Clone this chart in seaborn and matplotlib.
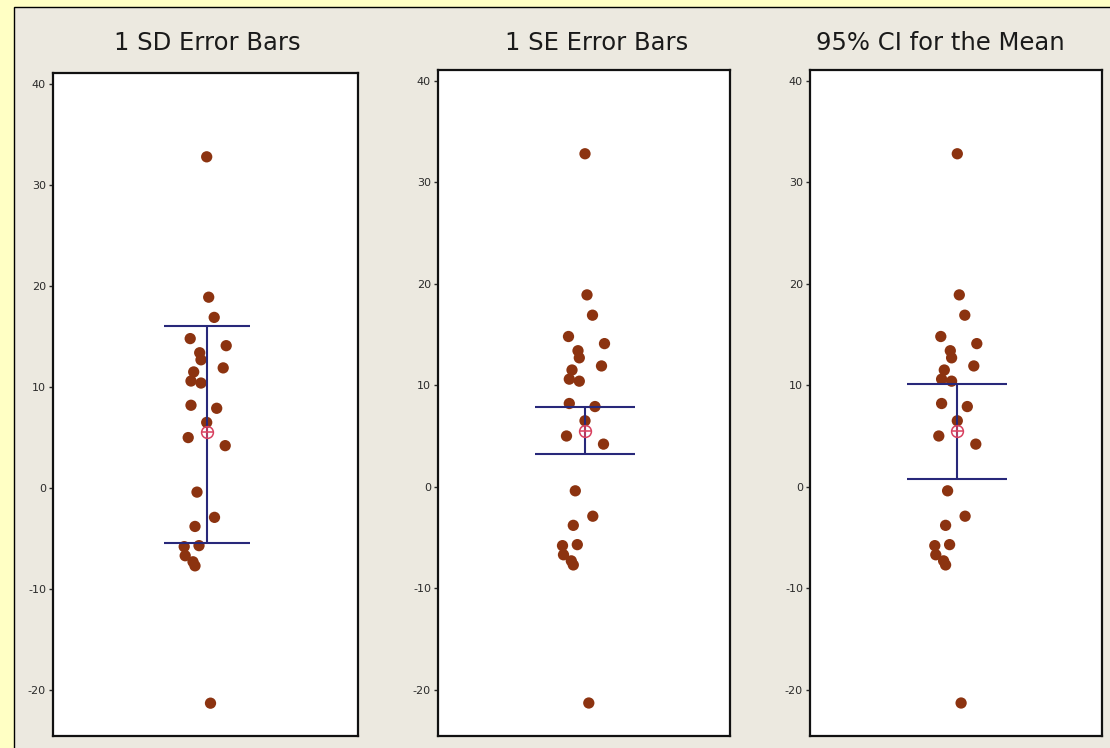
import numpy as np
import matplotlib
matplotlib.use("Agg")
import matplotlib.pyplot as plt
import seaborn as sns
from matplotlib.patches import Rectangle
from matplotlib.ticker import FixedLocator, FuncFormatter

# ---- data ----
values = [32.8, 18.9, 16.9, 14.8, 14.1, 13.4, 12.7, 11.9, 11.5, 10.6, 10.4,
          8.2, 7.9, 6.5, 5.0, 4.2, -0.4, -2.9, -3.8, -5.8, -5.7, -6.7,
          -7.3, -7.7, -21.3]
# horizontal jitter of each point (in pixels from the panel centre line)
jitter = [0, 2, 7.5, -16.5, 19.5, -7, -5.7, 16.5, -13, -15.7, -5.7,
          -15.7, 10, 0, -18.5, 18.5, -9.7, 7.8, -11.7, -22.5, -7.7, -21.5,
          -13.7, -11.7, 3.8]
titles = ["1 SD Error Bars", "1 SE Error Bars", "95% CI for the Mean"]
bar_low = [-5.4, 3.25, 0.75]
bar_high = [16.0, 7.9, 10.15]
y_ticks = [-20, -10, 0, 10, 20, 30, 40]

plt.rcParams['axes.unicode_minus'] = False
sns.set_style("white")
plt.rcParams['font.family'] = ['DejaVu Sans']

W, H = 1110, 748
fig = plt.figure(figsize=(W / 100, H / 100), dpi=100)
fig.patch.set_facecolor('#FFFFC4')
fig.patches.append(Rectangle((13.5 / W, -0.02), 1.1, (H - 6.5) / H + 0.02,
                             transform=fig.transFigure, facecolor='#ECE9E0',
                             edgecolor='black', linewidth=1.0, zorder=-1))

# panel layout in pixels: left, right, top, bottom, centre line x
panels = [(53, 358, 73, 736, 206.7),
          (438, 730, 69.5, 736, 585.0),
          (810, 1102, 69.5, 736, 957.3)]
title_x = [207, 597, 940]
caps = [31, 36, 36]

mean_val = float(np.mean(values))

for i, (l, r, t, b, c) in enumerate(panels):
    ax = fig.add_axes([l / W, (H - b) / H, (r - l) / W, (b - t) / H])
    ax.set_facecolor('white')
    sns.scatterplot(x=jitter, y=values, ax=ax, color='#8C3310', s=66,
                    edgecolor='none', linewidth=0, zorder=2, legend=False)
    lo, hi = bar_low[i], bar_high[i]
    ctr = (lo + hi) / 2
    ax.errorbar([0], [ctr], yerr=[[ctr - lo], [hi - ctr]], fmt='none',
                ecolor='#28287A', elinewidth=1.5, capsize=caps[i],
                capthick=1.5, zorder=3)
    ax.plot([0], [mean_val], marker='o', markersize=8.5, markerfacecolor='none',
            markeredgecolor='#D8405F', markeredgewidth=1.1, zorder=4)
    ax.plot([0], [mean_val], marker='+', markersize=8.5,
            markeredgecolor='#D8405F', markeredgewidth=1.1, zorder=4)
    ax.set_xlim(l - c, r - c)
    ax.set_ylim(-24.55, 41.1)
    ax.set_xticks([])
    ax.yaxis.set_major_locator(FixedLocator(y_ticks))
    ax.yaxis.set_major_formatter(FuncFormatter(lambda v, p: f"{int(round(v))}"))
    ax.tick_params(axis='y', left=True, length=3, width=1, pad=2,
                   labelsize=8, colors='#2a2a2a')
    ax.set_xlabel('')
    ax.set_ylabel('')
    for s in ax.spines.values():
        s.set_visible(True)
        s.set_color('#111111')
        s.set_linewidth(1.6)
    fig.text(title_x[i] / W, 1 - 50.5 / H, titles[i], ha='center',
             va='baseline', fontsize=17.5, color='#1a1a1a')

fig.savefig('out.png', dpi=100, facecolor=fig.get_facecolor())
